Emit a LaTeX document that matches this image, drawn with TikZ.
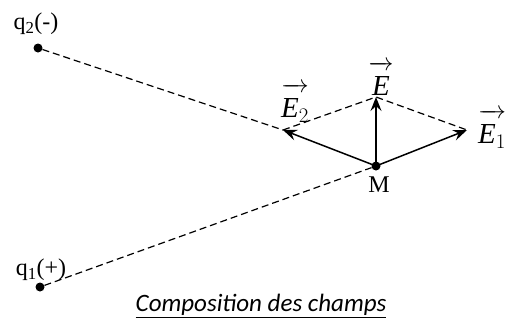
\documentclass[tikz,border=0pt]{standalone}
\usepackage{fontspec}
\setmainfont{Liberation Serif}
\newfontfamily\capfont{Carlito}
\usetikzlibrary{arrows.meta}

\begin{document}
\begin{tikzpicture}[x=1pt, y=-1pt,
  charge/.style={circle, fill=black, inner sep=0pt, minimum size=9pt},
  guide/.style={dash pattern=on 7pt off 4pt, line width=1.2pt},
  vec/.style={-{Stealth[length=14pt,width=11pt,inset=5pt]}, line width=1.5pt},
  lbl/.style={inner sep=0pt, font=\fontsize{24}{26}\selectfont},
  vlbl/.style={inner sep=0pt, font=\fontsize{29}{31}\selectfont},
]
\useasboundingbox (0,0) rectangle (510,325);

% Charges and point M
\node[charge] (q2) at (38,48) {};
\node[charge] (q1) at (40,287) {};
\node[charge] (M) at (376,166) {};
\node[lbl] (q2lbl) at (36,24) {q\textsubscript{2}(-)};
\node[lbl] (q1lbl) at (41,270) {q\textsubscript{1}(+)};
\node[lbl] (Mlbl) at (379,185) {M};

% Tips of the field vectors
\coordinate (tipE1) at (467,130);
\coordinate (tipE2) at (283,130);
\coordinate (tipE) at (376,97);

% Construction lines
\draw[guide] (q2) -- (tipE2);
\draw[guide] (q1) -- (M);
\draw[guide] (tipE2) -- (tipE) -- (tipE1);

% Field vectors
\draw[vec] (M.center) -- (tipE1);
\draw[vec] (M.center) -- (tipE2);
\draw[vec] (M.center) -- (tipE);
\node[vlbl] (E2lbl) at (295,103) {$\overrightarrow{\rule{0pt}{0.9em}\mathit{E}_2}$};
\node[vlbl] (Elbl) at (381,78) {$\overrightarrow{\rule{0pt}{0.9em}\mathit{E}}$};
\node[vlbl, anchor=west] (E1lbl) at (478,129) {$\overrightarrow{\rule{0pt}{0.9em}\mathit{E}_1}$};

% Caption
\node[font=\capfont\itshape\fontsize{25}{28}\selectfont] (caption) at (261,306) {\underline{Composition des champs}};
\end{tikzpicture}
\end{document}
